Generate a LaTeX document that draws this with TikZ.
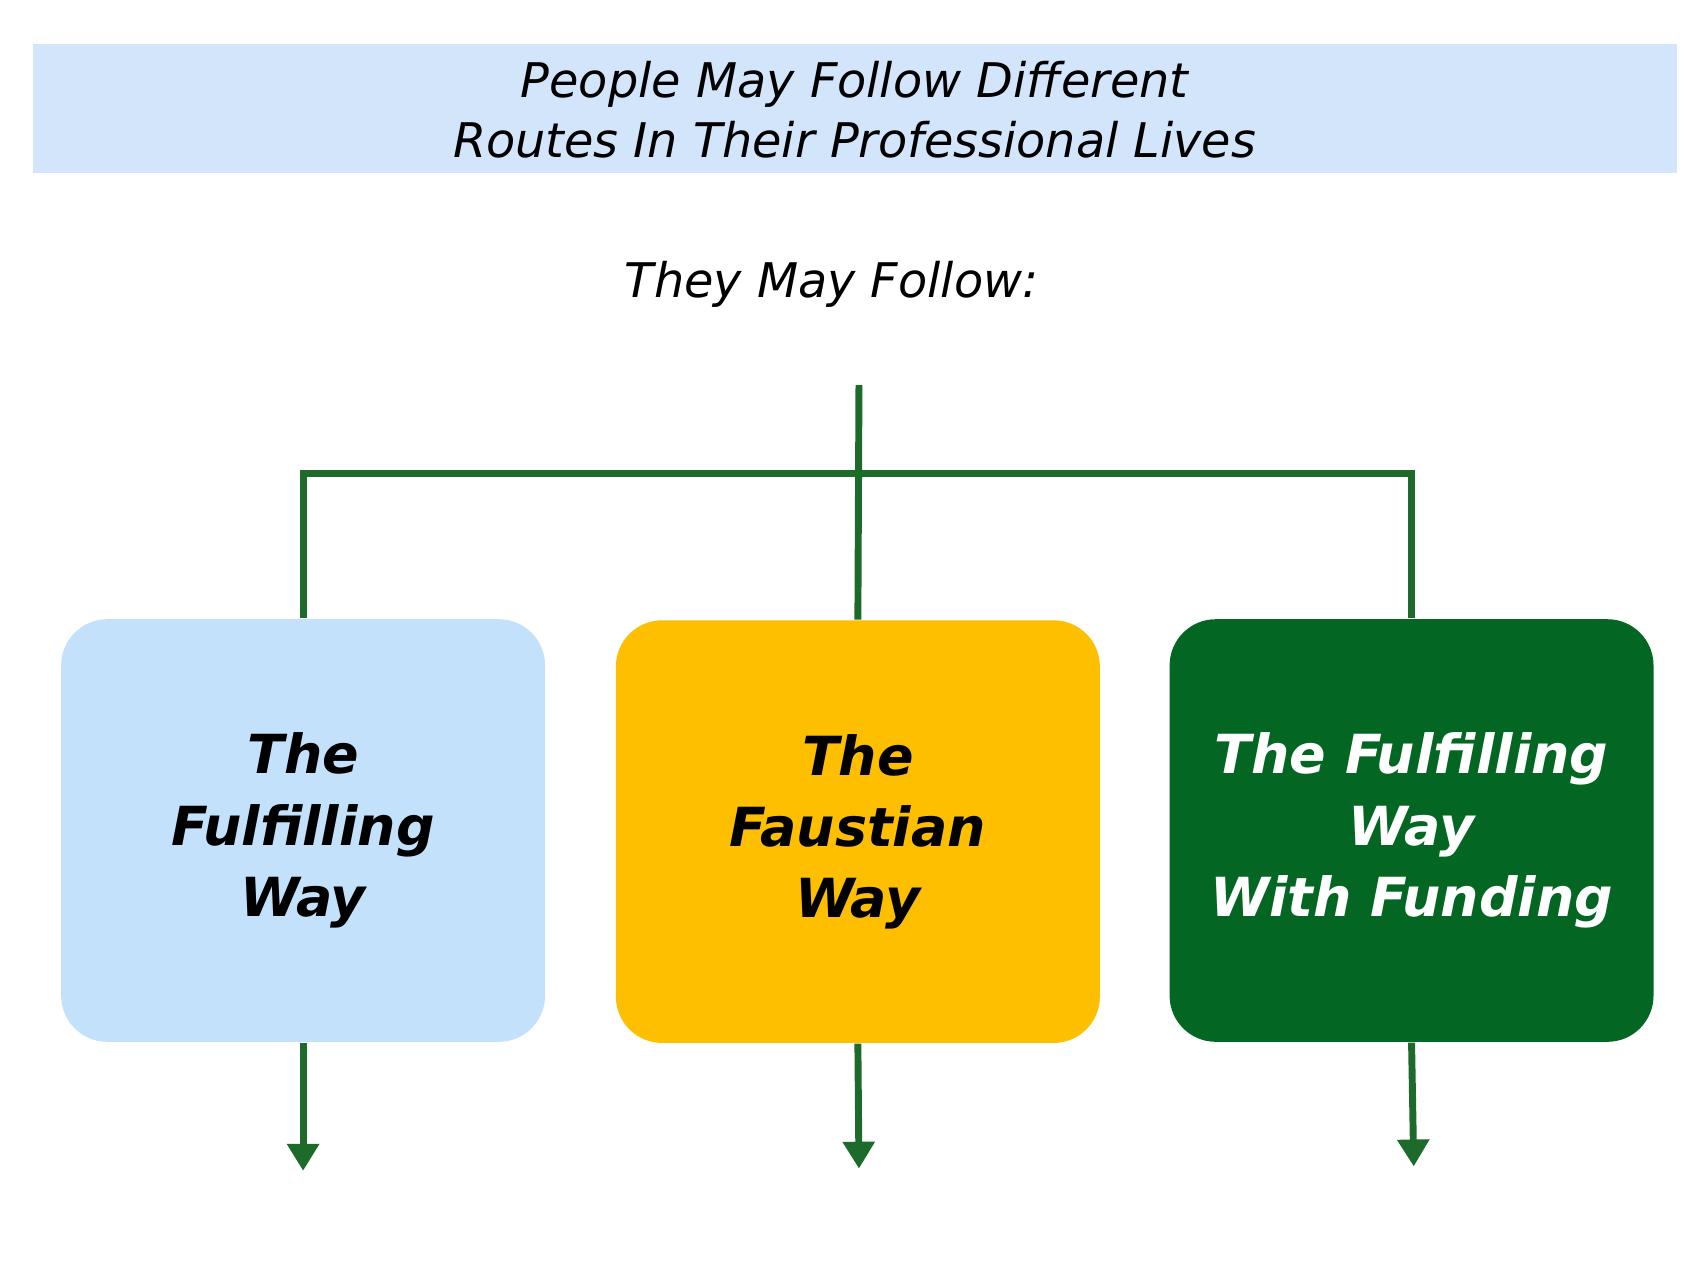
\documentclass[tikz,border=0pt]{standalone}
\usepackage{fontspec}
\setmainfont{DejaVu Sans}
\usetikzlibrary{arrows.meta}
\definecolor{barblue}{HTML}{D3E5FB}
\definecolor{boxblue}{HTML}{C4E1FC}
\definecolor{boxgold}{HTML}{FDBF00}
\definecolor{boxgreen}{HTML}{036622}
\definecolor{linegreen}{HTML}{1C6B2A}
\begin{document}
\begin{tikzpicture}[x=0.01cm,y=-0.01cm,
    way/.style={rounded corners=12pt, minimum width=4.42cm, minimum height=3.86cm,
      inner sep=0pt, align=center, font=\fontsize{14}{18.5}\selectfont\bfseries\itshape},
    link/.style={draw=linegreen, line width=1.8pt},
    down/.style={link, -{Triangle[length=7pt,width=8pt]}}]
    \useasboundingbox (0,0) rectangle (1560,1170);
    % Title
    \fill [barblue] (30,40) rectangle (1533,158);
    \node (title) [align=center, font=\fontsize{12.4}{15.6}\selectfont\itshape] at (781,100)
        {People May Follow Different\\Routes In Their Professional Lives};
    \node (follow) [font=\fontsize{12.4}{15}\selectfont\itshape] at (760,260) {They May Follow:};
    % Boxes
    \node (fulfil) [way, fill=boxblue] at (277,759) {The\\Fulfilling\\Way};
    \node (faust) [way, fill=boxgold] at (784,760) {The\\Faustian\\Way};
    \node (fund) [way, fill=boxgreen, text=white] at (1290,759)
        {The Fulfilling\\Way\\With Funding};
    % Connectors
    \coordinate (top) at (785,352);
    \coordinate (left) at (277,433);
    \coordinate (right) at (1290,433);
    \draw [link] (top) -- (faust.north);
    \draw [link] (fulfil.north) -- (left) -- (right) -- (fund.north);
    \coordinate (endA) at (277,1070);
    \coordinate (endB) at (785,1068);
    \coordinate (endC) at (1292,1066);
    \draw [down] (fulfil.south) -- (endA);
    \draw [down] (faust.south) -- (endB);
    \draw [down] (fund.south) -- (endC);
\end{tikzpicture}
\end{document}
